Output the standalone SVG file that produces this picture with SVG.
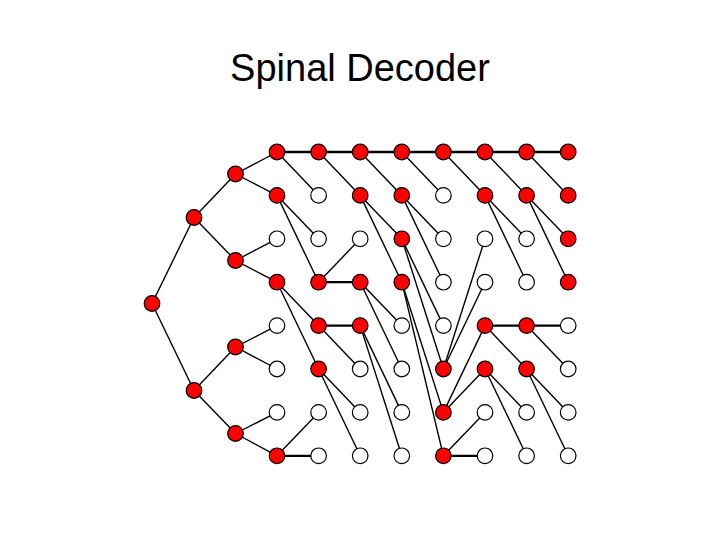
<svg xmlns="http://www.w3.org/2000/svg" width="720" height="540" viewBox="0 0 720 540">
<style>
.e{stroke:#000;stroke-width:1.4;fill:none}
.h{stroke:#000;stroke-width:2.3;fill:none}
.r{fill:#FF0000;stroke:#000;stroke-width:1.2}
.w{fill:#FFFFFF;stroke:#000;stroke-width:1.2}
.t{font-family:"Liberation Sans",Arial,sans-serif;font-size:38px;fill:#000}
</style>
<rect width="720" height="540" fill="#fff"/>
<text class="t" x="360" y="81" text-anchor="middle">Spinal Decoder</text>
<g id="connectors">
<line class="e" x1="152" y1="303.5" x2="194" y2="217.5"/>
<line class="e" x1="152" y1="303.5" x2="194" y2="390.5"/>
<line class="e" x1="194" y1="217.5" x2="235.5" y2="174"/>
<line class="e" x1="194" y1="217.5" x2="235.5" y2="260.5"/>
<line class="e" x1="194" y1="390.5" x2="235.5" y2="347"/>
<line class="e" x1="194" y1="390.5" x2="235.5" y2="433.5"/>
<line class="e" x1="235.5" y1="174" x2="277" y2="152"/>
<line class="e" x1="235.5" y1="174" x2="277" y2="195.4"/>
<line class="e" x1="235.5" y1="260.5" x2="277" y2="238.8"/>
<line class="e" x1="235.5" y1="260.5" x2="277" y2="282.2"/>
<line class="e" x1="235.5" y1="347" x2="277" y2="325.6"/>
<line class="e" x1="235.5" y1="347" x2="277" y2="369"/>
<line class="e" x1="235.5" y1="433.5" x2="277" y2="412.4"/>
<line class="e" x1="235.5" y1="433.5" x2="277" y2="455.8"/>
<!-- c1 -> c2 -->
<line class="h" x1="277" y1="152" x2="318.6" y2="152"/>
<line class="e" x1="277" y1="152" x2="318.6" y2="195.4"/>
<line class="e" x1="277" y1="195.4" x2="318.6" y2="238.8"/>
<line class="e" x1="277" y1="195.4" x2="318.6" y2="282.2"/>
<line class="e" x1="277" y1="282.2" x2="318.6" y2="325.6"/>
<line class="e" x1="277" y1="282.2" x2="318.6" y2="369"/>
<line class="e" x1="277" y1="455.8" x2="318.6" y2="412.4"/>
<line class="h" x1="277" y1="455.8" x2="318.6" y2="455.8"/>
<!-- c2 -> c3 -->
<line class="h" x1="318.6" y1="152" x2="360.2" y2="152"/>
<line class="e" x1="318.6" y1="152" x2="360.2" y2="195.4"/>
<line class="e" x1="318.6" y1="282.2" x2="360.2" y2="238.8"/>
<line class="h" x1="318.6" y1="282.2" x2="360.2" y2="282.2"/>
<line class="h" x1="318.6" y1="325.6" x2="360.2" y2="325.6"/>
<line class="e" x1="318.6" y1="325.6" x2="360.2" y2="369"/>
<line class="e" x1="318.6" y1="369" x2="360.2" y2="412.4"/>
<line class="e" x1="318.6" y1="369" x2="360.2" y2="455.8"/>
<!-- c3 -> c4 -->
<line class="h" x1="360.2" y1="152" x2="401.8" y2="152"/>
<line class="e" x1="360.2" y1="152" x2="401.8" y2="195.4"/>
<line class="e" x1="360.2" y1="195.4" x2="401.8" y2="238.8"/>
<line class="e" x1="360.2" y1="195.4" x2="401.8" y2="282.2"/>
<line class="e" x1="360.2" y1="282.2" x2="401.8" y2="325.6"/>
<line class="e" x1="360.2" y1="282.2" x2="401.8" y2="369"/>
<line class="e" x1="360.2" y1="325.6" x2="401.8" y2="412.4"/>
<line class="e" x1="360.2" y1="325.6" x2="401.8" y2="455.8"/>
<!-- c4 -> c5 -->
<line class="h" x1="401.8" y1="152" x2="443.4" y2="152"/>
<line class="e" x1="401.8" y1="152" x2="443.4" y2="195.4"/>
<line class="e" x1="401.8" y1="195.4" x2="443.4" y2="238.8"/>
<line class="e" x1="401.8" y1="195.4" x2="443.4" y2="282.2"/>
<line class="e" x1="401.8" y1="238.8" x2="443.4" y2="325.6"/>
<line class="e" x1="401.8" y1="238.8" x2="443.4" y2="369"/>
<line class="e" x1="401.8" y1="282.2" x2="443.4" y2="412.4"/>
<line class="e" x1="401.8" y1="282.2" x2="443.4" y2="455.8"/>
<!-- c5 -> c6 -->
<line class="h" x1="443.4" y1="152" x2="485" y2="152"/>
<line class="e" x1="443.4" y1="152" x2="485" y2="195.4"/>
<line class="e" x1="443.4" y1="369" x2="485" y2="238.8"/>
<line class="e" x1="443.4" y1="369" x2="485" y2="282.2"/>
<line class="e" x1="443.4" y1="412.4" x2="485" y2="325.6"/>
<line class="e" x1="443.4" y1="412.4" x2="485" y2="369"/>
<line class="e" x1="443.4" y1="455.8" x2="485" y2="412.4"/>
<line class="h" x1="443.4" y1="455.8" x2="485" y2="455.8"/>
<!-- c6 -> c7 -->
<line class="h" x1="485" y1="152" x2="526.6" y2="152"/>
<line class="e" x1="485" y1="152" x2="526.6" y2="195.4"/>
<line class="e" x1="485" y1="195.4" x2="526.6" y2="238.8"/>
<line class="e" x1="485" y1="195.4" x2="526.6" y2="282.2"/>
<line class="h" x1="485" y1="325.6" x2="526.6" y2="325.6"/>
<line class="e" x1="485" y1="325.6" x2="526.6" y2="369"/>
<line class="e" x1="485" y1="369" x2="526.6" y2="412.4"/>
<line class="e" x1="485" y1="369" x2="526.6" y2="455.8"/>
<!-- c7 -> c8 -->
<line class="h" x1="526.6" y1="152" x2="568.2" y2="152"/>
<line class="e" x1="526.6" y1="152" x2="568.2" y2="195.4"/>
<line class="e" x1="526.6" y1="195.4" x2="568.2" y2="238.8"/>
<line class="e" x1="526.6" y1="195.4" x2="568.2" y2="282.2"/>
<line class="h" x1="526.6" y1="325.6" x2="568.2" y2="325.6"/>
<line class="e" x1="526.6" y1="325.6" x2="568.2" y2="369"/>
<line class="e" x1="526.6" y1="369" x2="568.2" y2="412.4"/>
<line class="e" x1="526.6" y1="369" x2="568.2" y2="455.8"/>
</g>
<g id="nodes">
<g id="root"><circle class="r" cx="152" cy="303.5" r="7.8"/></g>
<g id="t1a"><circle class="r" cx="194" cy="217.5" r="7.8"/></g>
<g id="t1b"><circle class="r" cx="194" cy="390.5" r="7.8"/></g>
<g id="t2a"><circle class="r" cx="235.5" cy="174" r="7.8"/></g>
<g id="t2b"><circle class="r" cx="235.5" cy="260.5" r="7.8"/></g>
<g id="t2c"><circle class="r" cx="235.5" cy="347" r="7.8"/></g>
<g id="t2d"><circle class="r" cx="235.5" cy="433.5" r="7.8"/></g>
<!-- column 1 -->
<g id="c1r1"><circle class="r" cx="277" cy="152" r="7.8"/></g>
<g id="c1r2"><circle class="r" cx="277" cy="195.4" r="7.8"/></g>
<g id="c1r3"><circle class="w" cx="277" cy="238.8" r="7.8"/></g>
<g id="c1r4"><circle class="r" cx="277" cy="282.2" r="7.8"/></g>
<g id="c1r5"><circle class="w" cx="277" cy="325.6" r="7.8"/></g>
<g id="c1r6"><circle class="w" cx="277" cy="369" r="7.8"/></g>
<g id="c1r7"><circle class="w" cx="277" cy="412.4" r="7.8"/></g>
<g id="c1r8"><circle class="r" cx="277" cy="455.8" r="7.8"/></g>
<!-- column 2 -->
<g id="c2r1"><circle class="r" cx="318.6" cy="152" r="7.8"/></g>
<g id="c2r2"><circle class="w" cx="318.6" cy="195.4" r="7.8"/></g>
<g id="c2r3"><circle class="w" cx="318.6" cy="238.8" r="7.8"/></g>
<g id="c2r4"><circle class="r" cx="318.6" cy="282.2" r="7.8"/></g>
<g id="c2r5"><circle class="r" cx="318.6" cy="325.6" r="7.8"/></g>
<g id="c2r6"><circle class="r" cx="318.6" cy="369" r="7.8"/></g>
<g id="c2r7"><circle class="w" cx="318.6" cy="412.4" r="7.8"/></g>
<g id="c2r8"><circle class="w" cx="318.6" cy="455.8" r="7.8"/></g>
<!-- column 3 -->
<g id="c3r1"><circle class="r" cx="360.2" cy="152" r="7.8"/></g>
<g id="c3r2"><circle class="r" cx="360.2" cy="195.4" r="7.8"/></g>
<g id="c3r3"><circle class="w" cx="360.2" cy="238.8" r="7.8"/></g>
<g id="c3r4"><circle class="r" cx="360.2" cy="282.2" r="7.8"/></g>
<g id="c3r5"><circle class="r" cx="360.2" cy="325.6" r="7.8"/></g>
<g id="c3r6"><circle class="w" cx="360.2" cy="369" r="7.8"/></g>
<g id="c3r7"><circle class="w" cx="360.2" cy="412.4" r="7.8"/></g>
<g id="c3r8"><circle class="w" cx="360.2" cy="455.8" r="7.8"/></g>
<!-- column 4 -->
<g id="c4r1"><circle class="r" cx="401.8" cy="152" r="7.8"/></g>
<g id="c4r2"><circle class="r" cx="401.8" cy="195.4" r="7.8"/></g>
<g id="c4r3"><circle class="r" cx="401.8" cy="238.8" r="7.8"/></g>
<g id="c4r4"><circle class="r" cx="401.8" cy="282.2" r="7.8"/></g>
<g id="c4r5"><circle class="w" cx="401.8" cy="325.6" r="7.8"/></g>
<g id="c4r6"><circle class="w" cx="401.8" cy="369" r="7.8"/></g>
<g id="c4r7"><circle class="w" cx="401.8" cy="412.4" r="7.8"/></g>
<g id="c4r8"><circle class="w" cx="401.8" cy="455.8" r="7.8"/></g>
<!-- column 5 -->
<g id="c5r1"><circle class="r" cx="443.4" cy="152" r="7.8"/></g>
<g id="c5r2"><circle class="w" cx="443.4" cy="195.4" r="7.8"/></g>
<g id="c5r3"><circle class="w" cx="443.4" cy="238.8" r="7.8"/></g>
<g id="c5r4"><circle class="w" cx="443.4" cy="282.2" r="7.8"/></g>
<g id="c5r5"><circle class="w" cx="443.4" cy="325.6" r="7.8"/></g>
<g id="c5r6"><circle class="r" cx="443.4" cy="369" r="7.8"/></g>
<g id="c5r7"><circle class="r" cx="443.4" cy="412.4" r="7.8"/></g>
<g id="c5r8"><circle class="r" cx="443.4" cy="455.8" r="7.8"/></g>
<!-- column 6 -->
<g id="c6r1"><circle class="r" cx="485" cy="152" r="7.8"/></g>
<g id="c6r2"><circle class="r" cx="485" cy="195.4" r="7.8"/></g>
<g id="c6r3"><circle class="w" cx="485" cy="238.8" r="7.8"/></g>
<g id="c6r4"><circle class="w" cx="485" cy="282.2" r="7.8"/></g>
<g id="c6r5"><circle class="r" cx="485" cy="325.6" r="7.8"/></g>
<g id="c6r6"><circle class="r" cx="485" cy="369" r="7.8"/></g>
<g id="c6r7"><circle class="w" cx="485" cy="412.4" r="7.8"/></g>
<g id="c6r8"><circle class="w" cx="485" cy="455.8" r="7.8"/></g>
<!-- column 7 -->
<g id="c7r1"><circle class="r" cx="526.6" cy="152" r="7.8"/></g>
<g id="c7r2"><circle class="r" cx="526.6" cy="195.4" r="7.8"/></g>
<g id="c7r3"><circle class="w" cx="526.6" cy="238.8" r="7.8"/></g>
<g id="c7r4"><circle class="w" cx="526.6" cy="282.2" r="7.8"/></g>
<g id="c7r5"><circle class="r" cx="526.6" cy="325.6" r="7.8"/></g>
<g id="c7r6"><circle class="r" cx="526.6" cy="369" r="7.8"/></g>
<g id="c7r7"><circle class="w" cx="526.6" cy="412.4" r="7.8"/></g>
<g id="c7r8"><circle class="w" cx="526.6" cy="455.8" r="7.8"/></g>
<!-- column 8 -->
<g id="c8r1"><circle class="r" cx="568.2" cy="152" r="7.8"/></g>
<g id="c8r2"><circle class="r" cx="568.2" cy="195.4" r="7.8"/></g>
<g id="c8r3"><circle class="r" cx="568.2" cy="238.8" r="7.8"/></g>
<g id="c8r4"><circle class="r" cx="568.2" cy="282.2" r="7.8"/></g>
<g id="c8r5"><circle class="w" cx="568.2" cy="325.6" r="7.8"/></g>
<g id="c8r6"><circle class="w" cx="568.2" cy="369" r="7.8"/></g>
<g id="c8r7"><circle class="w" cx="568.2" cy="412.4" r="7.8"/></g>
<g id="c8r8"><circle class="w" cx="568.2" cy="455.8" r="7.8"/></g>
</g>
</svg>
